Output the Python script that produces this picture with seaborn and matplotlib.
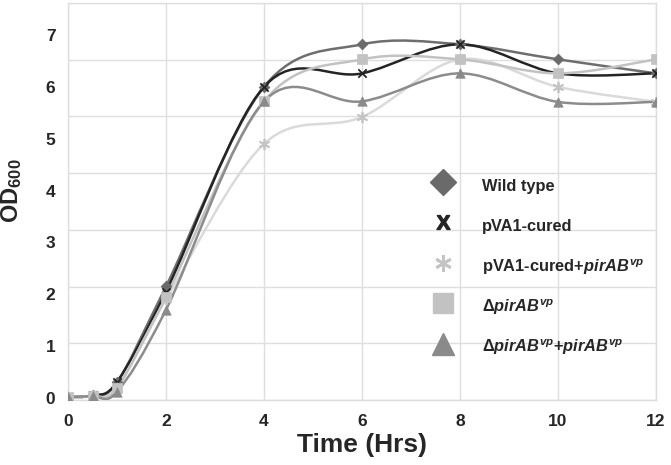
import numpy as np
import pandas as pd
import matplotlib
matplotlib.use("Agg")
import matplotlib.pyplot as plt
from matplotlib.path import Path
from matplotlib.patches import PathPatch
from matplotlib.lines import Line2D
import seaborn as sns

# data (OD600 in axis-label units)
time_hrs = [0, 0.5, 1, 2, 4, 6, 8, 10, 12]
wild_type = [0.02, 0.05, 0.30, 2.15, 6.00, 6.82, 6.82, 6.53, 6.26]
pva1_cured = [0.02, 0.05, 0.31, 2.05, 6.00, 6.26, 6.82, 6.26, 6.26]
pva1_cured_pir = [0.02, 0.04, 0.19, 1.90, 4.90, 5.42, 6.53, 6.00, 5.71]
delta_pir = [0.02, 0.04, 0.20, 1.95, 5.72, 6.53, 6.53, 6.26, 6.53]
delta_pir_pir = [0.02, 0.04, 0.12, 1.70, 5.72, 5.72, 6.26, 5.71, 5.71]

labels = [
    "Wild type",
    "pVA1-cured",
    r"pVA1-cured+$\mathit{pirAB}^{\mathit{vp}}$",
    r"Δ$\mathit{pirAB}^{\mathit{vp}}$",
    r"Δ$\mathit{pirAB}^{\mathit{vp}}$+$\mathit{pirAB}^{\mathit{vp}}$",
]
series = [wild_type, pva1_cured, pva1_cured_pir, delta_pir, delta_pir_pir]

# style per series: line colour, marker colour, marker, size in plot, size in legend
styles = [
    dict(lc="#6e6e6e", mc="#6a6a6a", m="D", s=30, ls=13),
    dict(lc="#242424", mc="#242424", m="x", s=36, ls=10),
    dict(lc="#dadada", mc="#c4c4c4", m=(6, 2, 0), s=50, ls=12),
    dict(lc="#c2c2c2", mc="#c2c2c2", m="s", s=42, ls=15),
    dict(lc="#8c8c8c", mc="#8a8a8a", m="^", s=46, ls=16),
]

df = pd.DataFrame({"time": time_hrs})
for lab, vals in zip(labels, series):
    df[lab] = vals


def smooth_path(x, y):
    # Excel-style smoothed line: cubic bezier through every point
    p = np.column_stack([x, y]).astype(float)
    n = len(p)
    verts = [p[0]]
    codes = [Path.MOVETO]
    for i in range(n - 1):
        p0 = p[max(i - 1, 0)]
        p1 = p[i]
        p2 = p[i + 1]
        p3 = p[min(i + 2, n - 1)]
        c1 = p1 + (p2 - p0) / 6
        c2 = p2 - (p3 - p1) / 6
        verts += [c1, c2, p2]
        codes += [Path.CURVE4] * 3
    return Path(verts, codes)


sns.set_style("white")
plt.rcParams["font.family"] = ["Liberation Sans", "DejaVu Sans"]
plt.rcParams["font.weight"] = "bold"
plt.rcParams["mathtext.fontset"] = "custom"
plt.rcParams["mathtext.rm"] = "Liberation Sans:bold"
plt.rcParams["mathtext.it"] = "Liberation Sans:italic:bold"
plt.rcParams["mathtext.bf"] = "Liberation Sans:bold"

fig = plt.figure(figsize=(6.71, 4.65), dpi=100)
ax = fig.add_axes([68 / 671, 1 - 400 / 465, 588 / 671, 397 / 465])

for i, (lab, st) in enumerate(zip(labels, styles)):
    patch = PathPatch(smooth_path(df["time"], df[lab]), facecolor="none",
                      edgecolor=st["lc"], lw=1.8, zorder=2 + i, capstyle="round")
    ax.add_patch(patch)
    if st["m"] in ("x", (6, 2, 0)):
        sns.scatterplot(x=df["time"], y=df[lab], marker=st["m"], s=st["s"],
                        color=st["mc"], linewidth=1.3, ax=ax, zorder=10 + i)
    else:
        sns.scatterplot(x=df["time"], y=df[lab], marker=st["m"], s=st["s"],
                        color=st["mc"], edgecolor=st["mc"], linewidth=0.5,
                        ax=ax, zorder=10 + i)

# the printed labels sit slightly off the gridlines in the original figure
y_lo, y_hi = -0.039, 7.617
ax.set_xlim(0, 12)
ax.set_ylim(y_lo, y_hi)
ax.set_xticks(range(0, 13, 2))
ax.set_yticks(range(0, 8))
ax.set_yticks(np.linspace(y_lo, y_hi, 8), minor=True)
ax.grid(True, axis="x", which="major", color="#dedede", lw=1)
ax.grid(True, axis="y", which="minor", color="#dedede", lw=1)
ax.grid(False, axis="y", which="major")
ax.tick_params(which="both", length=0)
ax.tick_params(axis="y", labelsize=12.5, pad=9)
ax.tick_params(axis="x", labelsize=12.5, pad=10)
for t in ax.get_xticklabels() + ax.get_yticklabels():
    t.set_fontweight("bold")
for sp in ax.spines.values():
    sp.set_color("#dedede")
    sp.set_linewidth(1)

ax.set_xlabel("Time (Hrs)", fontsize=19, fontweight="bold", labelpad=3)
ax.set_ylabel(r"OD$_{600}$", fontsize=17, fontweight="bold")
ax.yaxis.set_label_coords(-0.074, 0.528)

handles = []
for st in styles:
    if st["m"] == "x":
        h = Line2D([], [], ls="none", marker=r"$\mathbf{X}$", ms=st["ls"],
                   color=st["mc"])
    elif st["m"] == (6, 2, 0):
        h = Line2D([], [], ls="none", marker=(6, 2, 0), ms=st["ls"],
                   color=st["mc"], mew=2)
    else:
        h = Line2D([], [], ls="none", marker=st["m"], ms=st["ls"],
                   color=st["mc"])
    handles.append(h)

fs = 11.8
fs_px = fs * 100 / 72
ax.legend(handles, labels, loc="upper left", frameon=False,
          bbox_to_anchor=((443 - fs_px) / 671, 1 - 173 / 465),
          bbox_transform=fig.transFigure, borderpad=0, borderaxespad=0,
          prop=dict(size=fs, weight="bold"), handlelength=2.0,
          handleheight=2.0, labelspacing=0.92, handletextpad=1.38)

fig.savefig("out.png", dpi=100)
